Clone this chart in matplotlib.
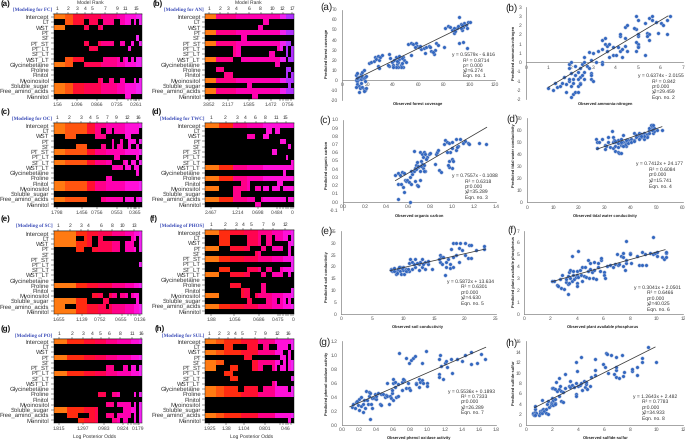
import numpy as np
import matplotlib
matplotlib.use('Agg')
import matplotlib.pyplot as plt
from matplotlib.colors import ListedColormap

W, H = 685, 441
plt.rcParams['font.family'] = ['Liberation Sans', 'DejaVu Sans']
plt.rcParams['text.hinting'] = 'none'
plt.rcParams['text.hinting_factor'] = 1

variables = ['Intercept', 'LT', 'WST', 'PT', 'ST', 'PT_ST', 'PT_LT', 'ST_LT', 'WST_LT', 'Glycinebetaine',
             'Proline', 'Pinitol', 'Myoinositol', 'Soluble_sugar', 'Free_amino_acids', 'Mannitol']
F = '#' * 32

# BMA image plots: one string per variable, '#' = variable in the model, digit string = posterior odds level
fc_rows = [F, '....#######..###..####..####.#.#', '####.......##...##', '', '..............................#.',
           '...........##...######..##..#..#', '.............###...........#....', '',
           '....#######.......######.##.#.##', '#######....#####################', '', '',
           '................##..##..##...#.#', F, F, '..........................##']
fc_levels = '00001113333444444555555666777788'
fc_ranks = [1, 2, 3, 4, 5, 7, 9, 11, 15]
fc_rank_at = [1.4, 5.2, 8.5, 11.5, 13.9, 18.7, 22.9, 26.1, 30]
fc_odds = ['1.56', '1.096', '0.866', '0.735', '0.261']
fc_odds_at = [1.4, 8.5, 15.8, 22.8, 29.7]

an_rows = [F, '.....................##', '...................##', F, '.............##',
           '###############################.', '..........###.............##.#.#', '..........###..........##....#.#',
           '##########...################.##', '.........................##', '....###......................##',
           '.......###...................#.#', F, '...............##.............#.', F, '.................##']
an_levels = '00005555555666666666666666688999'
an_ranks = [1, 2, 3, 4, 6, 8, 10, 12, 17]
an_rank_at = [1.6, 5.4, 8.4, 11.2, 15.8, 20, 24.2, 27.9, 31.3]
an_odds = ['3.852', '2.117', '1.585', '1.472', '0.756']
an_odds_at = [1.6, 8.4, 15.8, 23.6, 30]

oc_rows = [F, '#################..##.#########.', '....####.......####.......##', '.....................#..#..###.#',
           '........####.....##..#.##..#..#.', F, '......................##......#',
           '#####################....##.##.#', '.....................####.##.##', '..............................#',
           '...................##', F, F, '', '############.....########.###.##', '']
oc_levels = '00001111111133355556666666777778'
oc_ranks = [1, 2, 3, 4, 5, 7, 9, 12, 16]
oc_rank_at = [1.4, 5.8, 10, 13.2, 15.8, 19.4, 22.6, 26.6, 30.6]
oc_odds = ['1.798', '1.456', '0.756', '0.553', '0.365']
oc_odds_at = [1.4, 10.2, 15.8, 22.8, 29.4]

twc_rows = [F, '......................##.##', '...............###...##', '...........................##',
            '..............................#', '........................##', '.............................#',
            '...............................#', F, '............................#', F,
            '.............###..........##', '#####.....######..##.##.###.####', '..........###',
            '##################..#########.##', '..................##']
twc_levels = '00000222225555566666677777777777'
twc_ranks = [1, 2, 3, 4, 6, 8, 11, 15]
twc_rank_at = [2.2, 7.4, 11.4, 14.4, 18.2, 21.6, 25.8, 29]
twc_odds = ['2.467', '1.214', '0.698', '0.484', '0']
twc_odds_at = [2.2, 11.8, 19, 25.9, 31.5]

sc_rows = [F, '########...###..##..........##.#', '##############..########..###..#',
           '........###...##########..####.#', '', '', '...............................#', '', '', '', F, '',
           '..............####..###.###.###.', '############......##..........#.',
           '####....###########.############', F]
sc_levels = '00000000222233334444455555666778'
sc_ranks = [1, 2, 3, 4, 6, 8, 10, 13]
sc_rank_at = [1.8, 6, 10, 12.6, 17.1, 21.3, 24.9, 29.1]
sc_odds = ['1.655', '1.139', '0.752', '0.655', '0.136']
sc_odds_at = [1.8, 10.2, 16.8, 24.6, 31.4]

phos_rows = [F, '.....####......#####..##.#####.#', '.....####......#####..##......##',
             '#####....#######....##..####..#.', '..................##..........#', F,
             '...............................#', '.....####......#####..##...#####',
             '#####....#######....##..####..#.', '', '.........####.......##',
             '.............###....##.........#', '#####........###..##############',
             '...............##.....####.##.#.', F, '']
phos_levels = '00000222233333444445555566667778'
phos_ranks = [1, 2, 3, 4, 5, 7, 9, 12]
phos_rank_at = [2.2, 7.2, 11.2, 13.8, 16.5, 21, 24.6, 28.8]
phos_odds = ['1.88', '1.056', '0.686', '0.475', '0']
phos_odds_at = [2.2, 10.6, 19.4, 26.1, 31.7]

po_rows = [F, '', '', F, '', '...................###...##.##.#', F, '', '', '',
           '................###..###.....#.#', '', '...................###.#####.#.#',
           '################.........#####.#', '.....####....###...###.#####.#.#',
           '.........#######.....###.##..#.#']
po_levels = '00000222222333344445555666667778'
po_ranks = [1, 2, 3, 4, 5, 6, 8, 11, 16]
po_rank_at = [2, 6.6, 10.6, 14, 17, 20, 24, 28.4, 31.8]
po_odds = ['1.815', '1.297', '0.983', '0.824', '0.179']
po_odds_at = [2, 10.8, 18.3, 25.2, 30.6]

sul_rows = [F, '.......###.....####..##...####.#', '############################..#.',
            '..............###..........##.#.', '#######..........##########.#.##',
            '####.....###.....####...##.##.##', '.......###', '.........###...................#',
            '........................##', '############..#####..#########.#', F, '', '', '', F,
            '..............................#.']
sul_levels = '00001112222223333335555557777778'
sul_ranks = [1, 2, 3, 4, 5, 7, 9, 12, 16]
sul_rank_at = [1.6, 5, 8.2, 10.8, 13.2, 18, 21.6, 26, 30]
sul_odds = ['1.925', '1.38', '1.104', '0.801', '0.46']
sul_odds_at = [1.6, 7.6, 14, 21.6, 29]

# observed / predicted points
fc_points = [(11, 5), (12, 7), (13, 3), (15, 6), (16, 8), (17, 10), (11, 0), (12, -1), (13, 1), (14, 2), (15, 1),
             (16, 3), (17, 2), (18, 3), (19, 4), (12, -4), (13, -6), (11, -7), (14, -8), (16, -7), (17, -9), (18, -10),
             (19, -8), (13, -12), (17, -11), (15, -3), (18, -1), (12, 2), (21, 17), (23, 18), (25, 19), (26, 23),
             (27, 21), (28, 24), (29, 20), (30, 23), (31, 25), (28, 14), (29, 12), (37, 26), (38, 22), (37, 14),
             (36, 15), (39, 18), (40, 15), (41, 20), (42, 23), (43, 16), (44, 18), (45, 21), (46, 15), (47, 17),
             (48, 23), (49, 20), (50, 18), (48, 13), (46, 13), (44, 13), (42, 13), (40, 13), (47, 22), (45, 24),
             (43, 19), (52, 36), (54, 37), (56, 36), (58, 37), (59, 34), (60, 33), (62, 31), (64, 32), (65, 27),
             (66, 33), (68, 34), (70, 29), (72, 26), (73, 30), (74, 37), (75, 35), (71, 28), (69, 33), (54, 25),
             (61, 34), (57, 33), (80, 33), (81, 52), (83, 54), (85, 53), (86, 50), (88, 47), (90, 52), (92, 63),
             (93, 56), (94, 50), (95, 53), (96, 57), (97, 55), (98, 52), (99, 58), (100, 58), (92, 37), (95, 38),
             (98, 32), (88, 52), (91, 54), (93, 52), (94, 55), (89, 49)]
an_points = [(1.0, -1.4), (1.2, -1.5), (1.3, -1.1), (1.4, -1.35), (1.5, -1.3), (1.6, -1.1), (1.7, -0.8), (1.8, -1.2),
             (1.9, -1.0), (1.8, -1.6), (2.0, -1.3), (2.1, -1.7), (2.2, -1.6), (2.3, -1.3), (2.1, -1.1), (1.9, -0.9),
             (2.0, -0.6), (1.9, -0.3), (1.9, -0.1), (2.0, 0), (2.2, -0.2), (2.3, -0.5), (2.4, -0.3), (2.5, -0.1),
             (2.6, 0), (2.7, -0.2), (2.6, -0.5), (2.4, -0.8), (2.3, -0.9), (2.2, -0.7), (2.5, -0.7), (2.8, -0.3),
             (2.9, -0.6), (2.9, -0.9), (3.0, -1.0), (2.9, -0.7), (2.1, -0.9), (2.6, -0.9), (2.4, -1.1), (2.3, -1.6),
             (2.4, -1.2), (2.0, -1.9), (2.6, 0.3), (2.9, 0.1), (2.8, 0.55), (3.0, 0.5), (3.2, 0.6), (3.1, 0), (3.4, 0),
             (3.4, -0.1), (3.4, 0.7), (3.5, 1.0), (3.6, 0.6), (3.4, 1.2), (3.5, 1.3), (3.6, 0.9), (3.7, 1.0),
             (3.7, 0.3), (3.9, 0.4), (3.9, 0.8), (4.0, 0.4), (4.2, 1.4), (4.2, 0.6), (4.3, 0.3), (4.3, 0.7), (4.4, 1.3),
             (4.4, 0.9), (4.5, 0.6), (4.1, 0.8), (4.4, 1.9), (4.5, 2.0), (4.2, 1.5), (4.9, 1.8), (4.8, 1.85),
             (4.9, 2.5), (5.0, 2.3), (5.0, 1.4), (5.0, 0.9), (4.9, 0.6), (5.0, 1.0), (5.0, 0.8), (4.9, 1.1), (5.3, 0.4),
             (5.5, 2.4), (5.6, 2.3), (5.6, 2.5), (5.5, 1.2), (5.4, 1.6), (5.5, 1.5), (5.9, 1.6), (5.8, 2.2), (6.0, 2.1),
             (6.1, 2.0), (6.3, 2.3), (6.3, 1.5), (6.4, 2.5), (5.3, 2.1), (5.0, 1.5), (5.4, 1.4)]
oc_points = [(0.48, 0.33), (0.50, 0.35), (0.52, 0.33), (0.54, 0.36), (0.56, 0.35), (0.50, 0.21), (0.53, 0.21),
             (0.55, 0.18), (0.57, 0.26), (0.58, 0.25), (0.59, 0.27), (0.60, 0.24), (0.61, 0.30), (0.62, 0.21),
             (0.63, 0.34), (0.62, 0.38), (0.65, 0.38), (0.56, 0.12), (0.50, 0.03), (0.61, 0), (0.66, 0.25), (0.68, 0.2),
             (0.69, 0.19), (0.70, 0.26), (0.65, 0.62), (0.66, 0.41), (0.67, 0.45), (0.68, 0.48), (0.69, 0.42),
             (0.70, 0.37), (0.71, 0.50), (0.72, 0.46), (0.73, 0.41), (0.70, 0.60), (0.72, 0.58), (0.74, 0.60),
             (0.75, 0.58), (0.77, 0.55), (0.79, 0.58), (0.80, 0.59), (0.73, 0.55), (0.76, 0.52), (0.69, 0.44),
             (0.67, 0.40), (0.71, 0.44), (0.74, 0.45), (0.75, 0.37), (0.74, 0.38), (0.85, 0.58), (0.86, 0.60),
             (0.87, 0.63), (0.84, 0.46), (0.88, 0.39), (0.90, 0.36), (0.92, 0.70), (0.93, 0.75), (0.95, 0.73),
             (0.97, 0.72), (1.0, 0.73), (1.03, 0.76), (1.07, 0.76), (0.98, 0.6), (1.0, 0.65), (1.03, 0.63), (1.05, 0.68),
             (1.10, 0.72), (1.12, 0.74), (1.14, 0.72), (1.15, 0.7), (1.24, 0.72), (1.31, 0.70), (0.97, 0.5), (1.0, 0.52),
             (1.0, 0.41), (0.97, 0.42), (0.96, 0.45), (1.01, 0.5), (0.95, 0.6), (1.04, 0.66)]
twc_points = [(26.5, 53), (27, 50), (27.5, 50), (27, 45), (29, 53), (30, 48), (30.5, 47), (30, 44), (31, 50), (32, 46),
              (31, 54), (33, 54), (32.5, 59), (33, 45), (33.5, 52), (34, 47), (34, 43), (35, 42), (35.5, 41), (36, 41),
              (35, 46), (36, 48), (34, 50), (35, 52), (36, 53), (37, 56), (37, 50), (38, 49), (39, 52), (38, 47),
              (39, 49), (37.5, 48), (40, 53), (41, 52), (41, 58), (42, 56), (43, 58), (43, 55), (44, 57), (44, 54),
              (45, 58), (45, 53), (46, 55), (46, 57), (47, 60), (47, 62), (48, 64), (48, 63), (49, 62), (48.5, 58),
              (49, 59), (50, 60), (52, 60), (47, 58), (46, 54), (48, 60), (45, 55), (44, 55.5), (42, 54), (43, 53),
              (40, 50), (41, 51), (36, 49), (37, 47), (38, 52), (33, 50), (34, 51), (35, 49), (36, 50), (47.5, 64),
              (48.5, 64)]
sc_points = [(8, 19), (8.3, 18), (8.6, 19.5), (8.8, 17), (9, 18), (9.2, 19), (9.5, 18), (9.5, 20), (9.7, 17), (10, 18.5),
             (10, 20), (10.2, 17), (10.5, 19), (10.7, 18), (11, 18), (11, 21.5), (11.2, 23), (11.5, 22), (11.5, 19),
             (12, 23), (12, 20), (12.5, 21), (12.8, 22), (12.5, 18.5), (13, 23), (13, 20), (13.5, 22), (13.5, 19),
             (14, 21), (14, 22.5), (14.7, 19), (16, 25), (16, 22), (16.2, 24), (16.5, 24), (17, 22), (16.7, 16.5),
             (17, 20), (17.3, 23), (17.5, 19.5), (17.5, 21), (17.7, 27.5), (18, 30), (18, 24), (18, 20), (18.5, 30),
             (18.5, 25), (19, 28), (19, 22), (19.2, 30), (19.5, 27), (20, 30), (20, 25), (20.5, 23.5), (20.7, 29),
             (21, 23.5), (21, 29), (21.7, 27), (23, 27.5), (23, 28.5), (8, 18.5), (9, 17.5), (10.5, 18), (9.8, 19.5),
             (8.5, 18.2), (9.3, 20), (10.8, 19), (11.8, 21), (12.2, 21.5), (13.2, 21), (15.8, 23), (16.3, 21)]
phos_points = [(2.1, 2.75), (2.3, 2.75), (2.5, 2.4), (2.6, 2.3), (2.7, 2.9), (2.8, 2.2), (2.9, 3.3), (3.0, 2.05), (3.2, 2.7),
               (3.2, 2.9), (3.3, 1.65), (3.3, 2.5), (3.3, 3.2), (3.4, 2.6), (3.4, 3.5), (3.5, 3.0), (3.5, 3.7), (3.6, 2.8),
               (3.6, 4.85), (3.7, 3.3), (3.7, 3.6), (3.8, 2.9), (3.9, 3.1), (4.0, 3.6), (4.0, 3.3), (4.0, 2.6), (4.0, 2.3),
               (4.1, 5.25), (4.1, 3.1), (4.2, 3.7), (4.3, 3.3), (4.4, 2.8), (4.4, 3.9), (4.5, 3.2), (4.6, 3.9), (4.7, 3.1),
               (4.8, 3.6), (4.8, 4.5), (4.9, 3.0), (5.0, 4.3), (5.0, 3.8), (5.1, 3.5), (5.2, 3.0), (5.3, 3.7), (5.3, 4.4),
               (5.4, 2.95), (5.6, 3.9), (5.6, 4.3), (5.7, 3.6), (5.8, 4.5), (5.8, 4.7), (6.0, 3.5), (6.0, 3.3), (6.1, 3.0),
               (6.3, 4.0), (6.5, 4.1), (6.7, 3.9), (6.9, 4.2), (7.1, 4.1), (7.2, 4.2), (7.0, 5.0), (7.3, 4.9), (7.5, 4.8),
               (7.5, 5.1), (7.6, 3.7), (7.7, 4.3), (7.7, 6.15), (7.7, 4.5), (7.5, 4.0), (8.0, 5.1), (8.1, 4.3), (8.0, 5.0),
               (8.5, 4.9), (8.7, 4.1), (8.9, 5.2), (8.9, 4.1), (9.1, 5.0), (9.2, 4.1), (9.5, 5.1), (9.7, 6.45), (9.7, 5.0),
               (9.9, 5.1), (10, 4.9), (10, 5.2), (10.4, 4.8), (10.6, 4.6), (10.7, 5.1), (10.7, 4.8), (10.7, 5.2)]
po_points = [(.12, .26), (.13, .3), (.15, .25), (.16, .33), (.18, .35), (.19, .28), (.2, .37), (.2, .22), (.22, .27), (.22, .4),
             (.24, .3), (.25, .18), (.26, .36), (.27, .25), (.28, .48), (.29, .36), (.3, .3), (.31, .47), (.32, .42), (.33, .08),
             (.33, .46), (.34, .3), (.35, .38), (.35, .25), (.37, .39), (.38, .44), (.4, .37), (.4, .42), (.42, .46), (.44, .3),
             (.45, .28), (.46, .45), (.48, .44), (.5, .4), (.52, .43), (.53, .6), (.53, .42), (.55, .3), (.56, .42), (.57, .39),
             (.58, .46), (.59, .5), (.6, .66), (.6, .6), (.6, .36), (.62, .55), (.62, .62), (.63, .4), (.65, .42), (.66, .58),
             (.67, 1.03), (.7, .62), (.72, .65), (.71, .66), (.7, .5), (.75, .53), (.77, .6), (.78, .53), (.8, .5), (.78, .88),
             (.75, .96), (.81, .93), (.83, .96), (.85, .98), (.86, .6), (.87, .58), (.9, .66), (.9, .55), (.91, .62), (.93, .65),
             (.93, .88), (.95, .6), (.98, 1.06), (.99, .6), (.99, .56), (1.13, .73), (1.13, .68), (1.13, .95), (1.14, 1.0),
             (1.16, .84), (1.18, .66), (1.2, .88), (1.22, .92), (1.23, .83), (1.27, .95), (1.29, .74), (1.34, .94), (1.4, .92),
             (1.44, 1.0), (1.51, .87), (1.51, 1.05), (1.58, .88), (1.62, 1.02), (1.67, .95)]
sul_points = [(.5, 2.1), (.55, 2.3), (.6, 2), (.65, 2.4), (.7, 3.0), (.7, 3.6), (.75, 2.2), (.7, 2), (1, 2), (1.05, 2.6),
              (1.1, 2.2), (1.2, 2.9), (1.25, 2.2), (1.3, 3), (1.25, 4.8), (1.4, 2.7), (1.5, 2.2), (1.5, 3.1), (1.6, 4),
              (1.7, 4.5), (1.75, 3.5), (1.7, 2.1), (1.9, 4.2), (1.9, 3.8), (2, 5.2), (2, 4.4), (2, 4), (2.1, 4.7), (2.1, 3.9),
              (2.2, 5), (2.2, 4.3), (2.2, 4.1), (2, 7.1), (2.1, 7), (2.2, 6.8), (2.3, 8.2), (2.4, 6.5), (2.5, 6.9), (2.5, 9),
              (2.5, 5.5), (2.6, 7.5), (2.7, 6.5), (2.7, 4.6), (2.8, 4.4), (2.8, 6.4), (3, 7), (3, 9.7), (3.3, 7.5), (3.4, 8.5),
              (3.4, 7.3), (3.5, 7.7), (3.7, 7.3), (3.8, 6), (3.8, 5.5), (3.8, 8.1), (3.9, 10.4), (3.8, 12.1), (4, 7.5),
              (4.1, 7.7), (4.2, 13), (4.2, 8.1), (4.3, 6.6), (4.4, 8.5), (4.5, 7.2), (4.6, 7.8), (4.6, 8.3), (4.7, 6.9),
              (4.9, 7.5), (5, 9.2), (5.3, 9.6), (5.3, 10.6), (5.3, 12.7), (5.9, 11.6), (6, 11), (6.1, 13.8), (6.2, 13.6),
              (6.3, 10), (6.5, 13.3), (6.7, 9.7), (6.9, 9.1), (6.9, 10.5), (6.9, 11), (6.9, 13), (7.1, 8.9), (7.3, 13.3),
              (7.4, 9.3), (7.5, 10.1), (8.1, 10.4), (8.1, 10.8), (8.5, 9.6), (8.5, 11), (8.9, 12), (8.9, 12.9), (9.3, 14.9),
              (9.9, 12)]

# trend lines as drawn
fc_fit = ([11, 99], [1, 55.6])
an_fit = ([1.0, 6.33], [-1.35, 2.5])
oc_fit = ([0.48, 1.315], [0.258, 0.905])
twc_fit = ([26.8, 51.9], [44.2, 63])
sc_fit = ([7.9, 23.3], [18.3, 27.4])
phos_fit = ([2.1, 10.65], [2.7, 5.4])
po_fit = ([0.09, 1.68], [0.26, 1.11])
sul_fit = ([0.64, 9.87], [3.3, 14.9])

fc_notes = ['y = 0.5579x - 6.816', 'R² = 0.8714', 'p= 0.000', 'χ2=6.274', 'Eqn. no. 1']
an_notes = ['y = 0.6374x - 2.0155', 'R² = 0.842', 'p=0.000', 'χ2=29.459', 'Eqn. no. 2']
oc_notes = ['y = 0.7557x - 0.1088', 'R² = 0.6318', 'p=0.000', 'χ2=35.289', 'Eqn. no. 3']
twc_notes = ['y = 0.7412x + 24.177', 'R² = 0.6084', 'p=0.000', 'χ2=15.741', 'Eqn. no. 4']
sc_notes = ['y = 0.5872x + 13.634', 'R² = 0.6301', 'p=0.000', 'χ2=4.630', 'Eqn. no. 5']
phos_notes = ['y = 0.3041x + 2.0501', 'R² = 0.6466', 'p=0.000', 'χ2=40.025', 'Eqn. no. 6']
po_notes = ['y = 0.5536x + 0.1893', 'R² = 0.7333', 'p=0.000', 'χ2=26.289', 'Eqn. no. 7']
sul_notes = ['y = 1.2643x + 2.482', 'R² = 0.7783', 'p=0.000', 'χ2=34.933', 'Eqn. no. 8']

level_colors = ['#ff7a12', '#ff5510', '#ff2c10', '#ff1030', '#ff0450', '#ff0088',
                '#ff00b0', '#ff10d8', '#f024f0', '#b030ff']
cmap = ListedColormap(level_colors)
cmap.set_bad('black')

fig = plt.figure(figsize=(W / 100, H / 100), dpi=100)


def px_axes(l, t, r, b):
    return fig.add_axes([l / W, 1 - b / H, (r - l) / W, (b - t) / H])


def px_text(x, y, s, **kw):
    kw.setdefault('va', 'center')
    fig.text(x / W, 1 - y / H, s, **kw)


def heat_panel(box, letter, letter_x, letter_y, title, title_y, rows, levels, ranks, rank_at, odds, odds_at):
    l, t, r, b = box
    ax = px_axes(l, t, r, b)
    shade = np.array([int(c) for c in levels], dtype=float)
    on = np.array([[c == '#' for c in row.ljust(32, '.')[:32]] for row in rows])
    z = np.ma.masked_where(~on, np.tile(shade, (16, 1)))
    ax.pcolormesh(np.arange(33), np.arange(17), z, cmap=cmap, vmin=-0.5, vmax=9.5)
    ax.set_facecolor('black')
    ax.set_xlim(0, 32)
    ax.set_ylim(16, 0)
    ax.set_yticks(np.arange(16) + 0.5)
    ax.set_yticklabels(variables, fontsize=4.2, color='#333333')
    ax.set_xticks(odds_at)
    ax.set_xticklabels(odds, fontsize=3.9, color='#444444')
    ax.set_xticks(np.arange(27, 32), minor=True)
    ax.tick_params(axis='y', length=2, width=0.3, pad=1)
    ax.tick_params(axis='x', which='both', length=1.5, width=0.3, pad=1.2)
    top = ax.secondary_xaxis('top')
    top.set_xticks(rank_at)
    top.set_xticklabels(ranks, fontsize=3.9, color='#333333')
    top.tick_params(length=1.5, width=0.3, pad=0.8)
    top.spines['top'].set_linewidth(0.3)
    for s in ax.spines.values():
        s.set_linewidth(0.3)
    px_text(l - 1, title_y, title, ha='right', fontsize=3.9, color='#3b4cb8', fontweight='bold', family='Liberation Serif')
    px_text(letter_x, letter_y, letter, ha='left', fontsize=5.8, fontweight='bold', color='#111111')


def scatter_panel(box, xlim, ylim, xticks, yticks, ylabels, points, fit, notes, note_x, note_y, letter, letter_at,
                  xlabel, xlabel_at, ylabel, ylabel_at):
    l, t, r, b = box
    ax = px_axes(l, t, r, b)
    ax.set_xlim(xlim)
    ax.set_ylim(ylim)
    px, py = zip(*points)
    ax.scatter(px, py, s=6.5, color='#3468c0', edgecolors='#cfd6e6', linewidths=0.2, zorder=3, clip_on=False)
    ax.plot(fit[0], fit[1], color='#333333', lw=0.55, zorder=4)
    ax.spines['top'].set_visible(False)
    ax.spines['right'].set_visible(False)
    ax.spines['bottom'].set_position(('data', 0))
    ax.spines['bottom'].set_color('#808080')
    ax.spines['left'].set_color('#808080')
    ax.spines['bottom'].set_linewidth(0.5)
    ax.spines['left'].set_linewidth(0.5)
    ax.set_xticks(xticks)
    ax.set_xticklabels([str(v) for v in xticks], fontsize=3.6, color='#555555')
    ax.set_yticks(yticks)
    ax.set_yticklabels(ylabels, fontsize=3.6, color='#555555')
    ax.tick_params(axis='x', length=0, pad=2)
    ax.tick_params(axis='y', length=0, pad=3.2)
    ax.patch.set_alpha(0)
    px_text(note_x[0], note_y[0], notes[0], ha='center', fontsize=3.5, color='#333333')
    for s, y in zip(notes[1:], note_y[1:]):
        px_text(note_x[1], y, s, ha='left', fontsize=3.5, color='#333333')
    px_text(letter_at[0], letter_at[1], letter, ha='left', fontsize=7, color='#222222')
    px_text(xlabel_at[0], xlabel_at[1], xlabel, ha='center', fontsize=3.1, fontweight='bold', color='#222222')
    px_text(ylabel_at[0], ylabel_at[1], ylabel, ha='center', rotation=90, fontsize=3.1, fontweight='bold', color='#222222')


heat_panel((53.5, 14, 142, 99), '(a)', 1, 4.5, '[Modeling for FC]', 10, fc_rows, fc_levels, fc_ranks, fc_rank_at, fc_odds, fc_odds_at)
heat_panel((205, 14, 294, 99), '(b)', 153, 4.5, '[Modeling for AN]', 10, an_rows, an_levels, an_ranks, an_rank_at, an_odds, an_odds_at)
heat_panel((53.5, 123, 142, 207), '(c)', 1, 112, '[Modeling for OC]', 118.5, oc_rows, oc_levels, oc_ranks, oc_rank_at, oc_odds, oc_odds_at)
heat_panel((205, 123, 294, 207), '(d)', 152, 112, '[Modeling for TWC]', 118.5, twc_rows, twc_levels, twc_ranks, twc_rank_at, twc_odds, twc_odds_at)
heat_panel((53.5, 231, 142, 314), '(e)', 1, 219.5, '[Modeling of SC]', 226, sc_rows, sc_levels, sc_ranks, sc_rank_at, sc_odds, sc_odds_at)
heat_panel((205, 230, 294, 314), '(f)', 150, 219.5, '[Modeling of PHOS]', 226, phos_rows, phos_levels, phos_ranks, phos_rank_at, phos_odds, phos_odds_at)
heat_panel((53.5, 339, 142, 423), '(g)', 1, 329, '[Modeling of PO]', 335.5, po_rows, po_levels, po_ranks, po_rank_at, po_odds, po_odds_at)
heat_panel((205, 339, 294, 423), '(h)', 155, 329, '[Modeling for SUL]', 335.5, sul_rows, sul_levels, sul_ranks, sul_rank_at, sul_odds, sul_odds_at)

px_text(90, 2.5, 'Model Rank', ha='center', fontsize=3.8, color='#333333')
px_text(248, 2.5, 'Model Rank', ha='center', fontsize=3.8, color='#333333')
px_text(95, 436.5, 'Log Posterior Odds', ha='center', fontsize=3.9, color='#333333')
px_text(252, 436.5, 'Log Posterior Odds', ha='center', fontsize=3.9, color='#333333')

scatter_panel((342, 9.5, 495, 100), (0, 120), (-20, 70), [0, 20, 40, 60, 80, 100, 120],
              list(range(-20, 80, 10)), [str(v) for v in range(-20, 80, 10)], fc_points, fc_fit, fc_notes,
              (473, 463), (55, 60.7, 65.7, 70.7, 76), '(a)', (320, 7),
              'Observed forest coverage', (418, 104), 'Predicted forest coverage', (327, 53))
an_y = [-2, -1.5, -1, -0.5, 0, 0.5, 1, 1.5, 2, 2.5, 3]
an_y_labels = ['-2', '-2', '-1', '-1', '0', '1', '1', '2', '2', '3', '3']
scatter_panel((526, 6.7, 683, 99.3), (0, 7), (-2, 3), [0, 1, 2, 3, 4, 5, 6, 7],
              an_y, an_y_labels, an_points, an_fit, an_notes,
              (661, 652), (76, 81.7, 86.7, 91.7, 97.7), '(b)', (505, 8),
              'Observed ammonia-nitrogen', (605, 104), 'Predicted ammonia-nitrogen', (514, 53))
oc_y = [-0.1, 0.0, 0.1, 0.2, 0.3, 0.4, 0.5, 0.6, 0.7, 0.8, 0.9, 1.0]
scatter_panel((343, 119.5, 496, 210), (0, 1.4), (-0.1, 1.0), [0.0, 0.2, 0.4, 0.6, 0.8, 1.0, 1.2, 1.4],
              oc_y, ['%.1f' % v for v in oc_y], oc_points, oc_fit, oc_notes,
              (475, 465), (176, 181.3, 186.7, 192, 197.7), '(c)', (319, 120),
              'Observed organic carbon', (419, 216), 'Predicted organic carbon', (327, 165))
scatter_panel((527, 118.3, 683, 202.3), (0, 60), (0, 70), [0, 10, 20, 30, 40, 50, 60],
              list(range(0, 80, 10)), [str(v) for v in range(0, 80, 10)], twc_points, twc_fit, twc_notes,
              (659, 649), (164, 169.3, 175, 180.7, 186.3), '(d)', (506, 119),
              'Observed tidal water conductivity', (605, 216), 'Predicted tidal water conductivity', (514, 155))
scatter_panel((341, 231, 496, 314), (0, 25), (0, 35), [0, 5, 10, 15, 20, 25],
              list(range(0, 40, 5)), [str(v) for v in range(0, 40, 5)], sc_points, sc_fit, sc_notes,
              (470, 461), (281.7, 287, 292.3, 298, 304), '(e)', (320, 231),
              'Observed soil conductivity', (418, 327), 'Predicted soil conductivity', (327, 277))
scatter_panel((524, 230.7, 683, 313.7), (0, 12), (0, 7), [0, 2, 4, 6, 8, 10, 12],
              list(range(0, 8)), [str(v) for v in range(0, 8)], phos_points, phos_fit, phos_notes,
              (657, 647), (287.3, 292.7, 298.3, 303.7, 310), '(f)', (507, 230),
              'Observed plant available phosphorus', (603, 327), 'Predicted plant available phosphorus', (514, 272))
po_y = [0.0, 0.2, 0.4, 0.6, 0.8, 1.0, 1.2]
scatter_panel((342, 341, 496, 425), (0, 1.8), (0, 1.2), [0.0, 0.2, 0.4, 0.6, 0.8, 1.0, 1.2, 1.4, 1.6, 1.8],
              po_y, ['%.1f' % v for v in po_y], po_points, po_fit, po_notes,
              (471, 461), (391.3, 396.7, 402, 407.3, 412.7), '(g)', (318, 342),
              'Observed phenol oxidase activity', (419, 438), 'Predicted phenol oxidase activity', (327, 383))
scatter_panel((526, 341.3, 683, 425), (0, 12), (0, 16), [0, 2, 4, 6, 8, 10, 12],
              list(range(0, 18, 2)), [str(v) for v in range(0, 18, 2)], sul_points, sul_fit, sul_notes,
              (655, 642), (397, 402, 407.3, 412.7, 418.7), '(h)', (505, 343),
              'Observed sulfide-sulfur', (605, 438), 'Predicted sulfide-sulfur', (514, 383))

fig.savefig('out.png', dpi=100)
